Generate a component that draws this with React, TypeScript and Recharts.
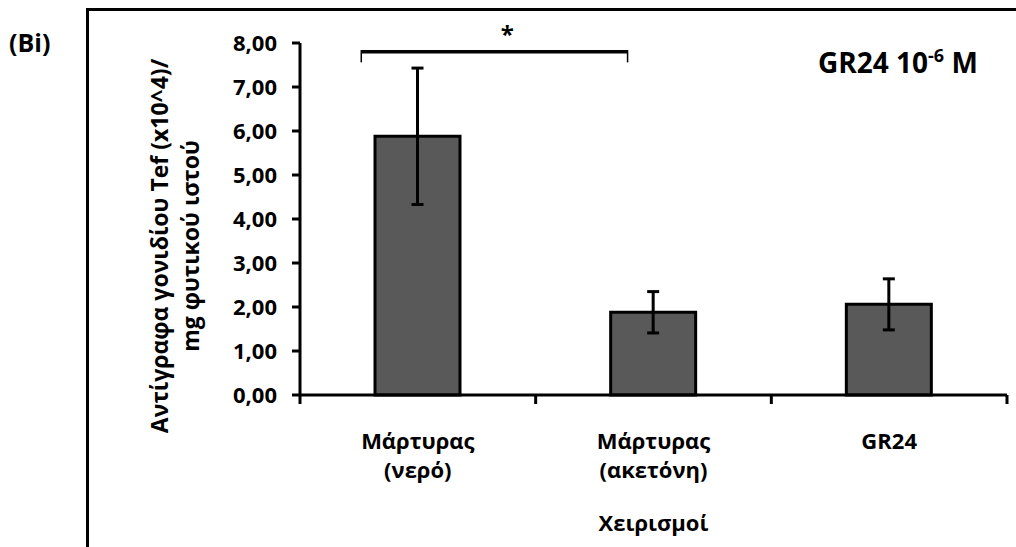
import React from 'react';
import { ComposedChart, Bar, XAxis, YAxis, ErrorBar, ReferenceLine, ReferenceDot } from 'recharts';

const categories = ['Μάρτυρας\n(νερό)', 'Μάρτυρας\n(ακετόνη)', 'GR24'];
const means = [5.88, 1.88, 2.06];
const errors = [1.55, 0.47, 0.58];
const yTicks = [0, 1, 2, 3, 4, 5, 6, 7, 8];
const bracketX = [0.26, 1.39];
const bracketY = [7.8, 7.56];
const starPos = { x: 0.88, y: 8.2 };
const yLabelLines = ['Αντίγραφα γονιδίου Tef (x10^4)/', 'mg φυτικού ιστού'];
const xLabel = 'Χειρισμοί';

const data = categories.map((c, i) => ({ name: c, pos: i + 0.5, value: means[i], err: errors[i] }));

const FONT = '"Open Sans", "Noto Sans", sans-serif';

const XTick = (props: any) => {
  const { x, y, payload, index, visibleTicksCount } = props;
  const lines = String(payload.value).split('\n');
  const off = payload.offset || 0;
  const isLast = index === (visibleTicksCount ?? categories.length) - 1;
  return (
    <g>
      <line x1={x - off} x2={x - off} y1={y} y2={y + 9} stroke="#000" strokeWidth={3} />
      {isLast && <line x1={x + off} x2={x + off} y1={y} y2={y + 9} stroke="#000" strokeWidth={3} />}
      <text x={x} y={y + 54} textAnchor="middle" fontFamily={FONT} fontWeight={700} fontSize={22} fill="#000">
        {lines.map((l, i) => (
          <tspan key={i} x={x} dy={i === 0 ? 0 : 29}>{l}</tspan>
        ))}
      </text>
    </g>
  );
};

const YLabel = (props: any) => {
  const vb = props.viewBox || {};
  const x = vb.x + 88;
  const cy = vb.y + vb.height / 2 + 27;
  return (
    <text
      x={x}
      y={cy}
      transform={`rotate(-90, ${x}, ${cy})`}
      textAnchor="middle"
      fontFamily={FONT}
      fontWeight={700}
      fontSize={23}
      fill="#000"
    >
      {yLabelLines.map((l, i) => (
        <tspan key={i} x={x} dy={i === 0 ? 0 : 31}>{l}</tspan>
      ))}
    </text>
  );
};

export default function App() {
  return (
    <div style={{ position: 'absolute', left: 0, top: 0, width: 1016, height: 547, background: '#fff' }}>
      <svg width={1016} height={547} style={{ position: 'absolute', left: 0, top: 0 }}>
        <path d="M87.5 547 V9.5 H1016" stroke="#000" strokeWidth={3} fill="none" />
        <text x={9} y={52} fontFamily={FONT} fontWeight={700} fontSize={25} fill="#000">(Bi)</text>
        <text x={818} y={73} fontFamily={FONT} fontWeight={700} fontSize={28} fill="#000">
          GR24 10<tspan dy={-11} fontSize={18}>-6</tspan><tspan dy={11}> M</tspan>
        </text>
      </svg>
      <div style={{ position: 'absolute', left: 0, top: 0 }}>
        <ComposedChart width={1016} height={547} data={data} margin={{ top: 43, right: 9, bottom: 0, left: 80 }}>
          <XAxis
            xAxisId="a"
            dataKey="pos"
            type="number"
            domain={[0, 3]}
            height={0}
            hide
            allowDataOverflow
          />
          <XAxis
            xAxisId="b"
            dataKey="name"
            height={152}
            axisLine={{ stroke: '#000', strokeWidth: 3 }}
            tickLine={false}
            tickSize={0}
            tickMargin={0}
            interval={0}
            tick={<XTick />}
            label={{ value: xLabel, position: 'insideBottom', offset: 16, fontFamily: FONT, fontWeight: 700, fontSize: 22, fill: '#000' }}
          />
          <YAxis
            width={220}
            domain={[0, 8]}
            ticks={yTicks}
            interval={0}
            tickFormatter={(v: number) => v.toFixed(2).replace('.', ',')}
            tick={{ fill: '#000', fontSize: 22, fontWeight: 700, fontFamily: FONT }}
            tickSize={8}
            tickMargin={15}
            axisLine={{ stroke: '#000', strokeWidth: 3 }}
            tickLine={{ stroke: '#000', strokeWidth: 3 }}
            label={<YLabel />}
          />
          <Bar xAxisId="b" dataKey="value" fill="#595959" stroke="#000" strokeWidth={3} barSize={85} isAnimationActive={false}>
            <ErrorBar dataKey="err" width={6} stroke="#000" strokeWidth={3} />
          </Bar>
          <ReferenceLine
            xAxisId="a"
            segment={[{ x: bracketX[0], y: bracketY[0] }, { x: bracketX[1], y: bracketY[0] }]}
            stroke="#000"
            strokeWidth={3.5}
          />
          <ReferenceLine
            xAxisId="a"
            segment={[{ x: bracketX[0], y: bracketY[0] + 0.04 }, { x: bracketX[0], y: bracketY[1] }]}
            stroke="#000"
            strokeWidth={1.5}
          />
          <ReferenceLine
            xAxisId="a"
            segment={[{ x: bracketX[1], y: bracketY[0] + 0.04 }, { x: bracketX[1], y: bracketY[1] }]}
            stroke="#000"
            strokeWidth={1.5}
          />
          <ReferenceDot
            xAxisId="a"
            x={starPos.x}
            y={starPos.y}
            r={1}
            fill="none"
            stroke="none"
            ifOverflow="visible"
            label={{ value: '*', position: 'center', fontFamily: FONT, fontWeight: 700, fontSize: 24, fill: '#000' }}
          />
        </ComposedChart>
      </div>
    </div>
  );
}
